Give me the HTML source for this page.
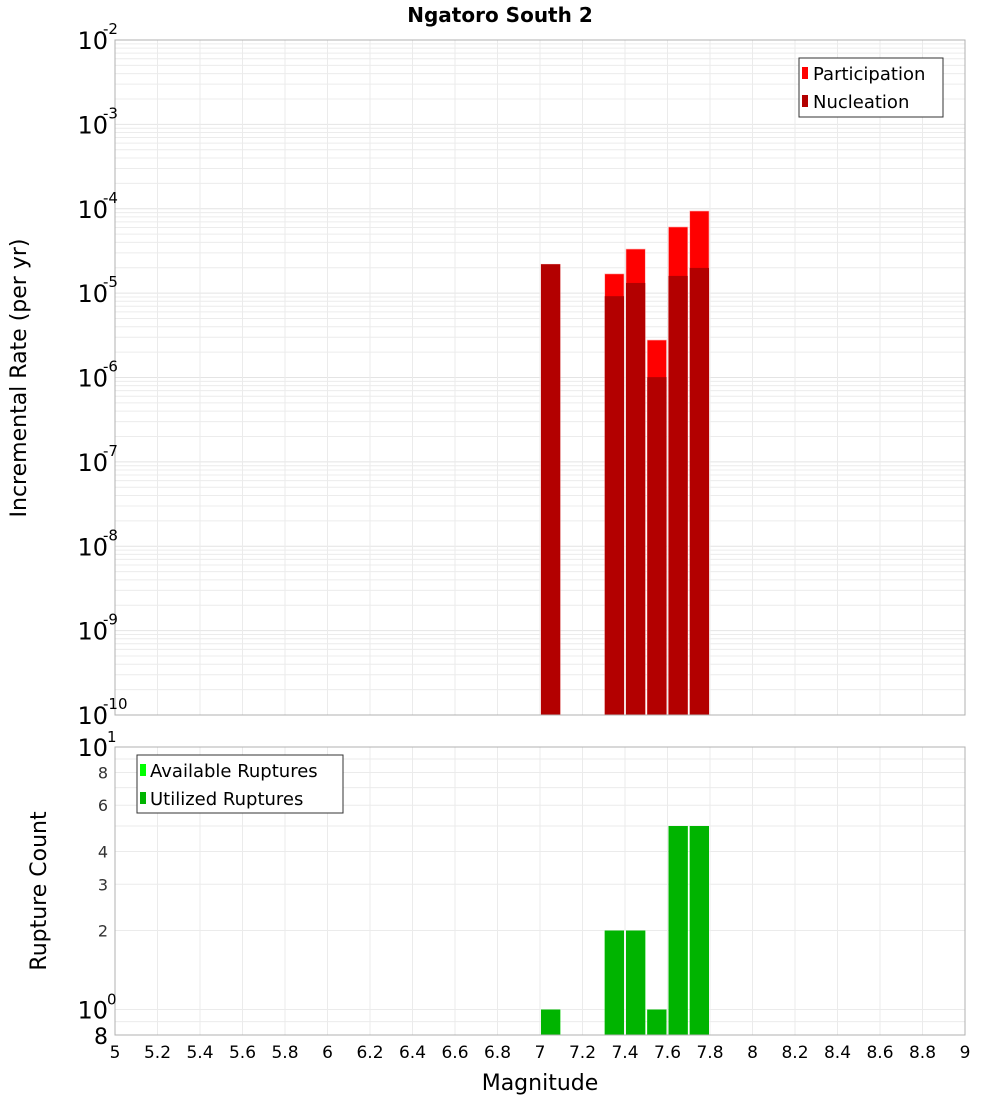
<!DOCTYPE html>
<html><head><meta charset="utf-8"><style>
body{margin:0;background:#fff;}
svg text{font-family:"DejaVu Sans","Liberation Sans",sans-serif;}
</style></head><body>
<svg id="c" width="1000" height="1100" xmlns="http://www.w3.org/2000/svg"></svg>
<script>
const binStarts=[7.0,7.3,7.4,7.5,7.6,7.7];
const participation=[2.2e-5,1.69e-5,3.33e-5,2.78e-6,6.08e-5,9.4e-5];
const nucleation=[2.2e-5,9.2e-6,1.32e-5,1.01e-6,1.6e-5,1.99e-5];
const available=[1,2,2,1,5,5];
const utilized=[1,2,2,1,5,5];
const xTicks=[5,5.2,5.4,5.6,5.8,6,6.2,6.4,6.6,6.8,7,7.2,7.4,7.6,7.8,8,8.2,8.4,8.6,8.8,9];
const topExps=[-2,-3,-4,-5,-6,-7,-8,-9,-10];
const botTicks=[8,6,4,3,2];

const svg=document.getElementById('c');
const NS='http://www.w3.org/2000/svg';
function mk(tag,attrs,parent){const e=document.createElementNS(NS,tag);for(const k in attrs)e.setAttribute(k,attrs[k]);(parent||svg).appendChild(e);return e;}
const L=115,R=965,T1=40,B1=715,T2=747,B2=1035;
const x=m=>L+(m-5)/4*(R-L);
const y1=v=>T1+(-2-Math.log10(v))*(B1-T1)/8;
const y2=v=>T2+(1-Math.log10(v))*(B2-T2)/(1-Math.log10(0.8));

// title
let t=mk('text',{x:500,y:22,'text-anchor':'middle','font-size':20,'font-weight':'bold'});t.textContent='Ngatoro South 2';


// grids top
const g1=mk('g',{});
for(let e=-10;e<-2;e++)for(let k=1;k<10;k++){const yy=y1(k*Math.pow(10,e));mk('line',{x1:L,x2:R,y1:yy,y2:yy,stroke:k==1?'#e4e4e4':'#ececec','stroke-width':1},g1);}
xTicks.forEach(m=>{mk('line',{x1:x(m),x2:x(m),y1:T1,y2:B1,stroke:'#ebebeb'},g1);mk('line',{x1:x(m),x2:x(m),y1:T2,y2:B2,stroke:'#ebebeb'},g1);});
const g2=mk('g',{});
[0.8,0.9,1,2,3,4,5,6,7,8,9,10].forEach(v=>{mk('line',{x1:L,x2:R,y1:y2(v),y2:y2(v),stroke:'#ebebeb'},g2);});

// bars top
const bw=x(5.1)-x(5);
binStarts.forEach((m,i)=>{
 let r=mk('rect',{x:x(m)+1,y:y1(participation[i]),width:bw-2,height:B1-y1(participation[i]),fill:'#ff0000',stroke:'#ffb0b0','stroke-width':0.6});
 
});
binStarts.forEach((m,i)=>{
 let r=mk('rect',{x:x(m)+1,y:y1(nucleation[i]),width:bw-2,height:B1-y1(nucleation[i]),fill:'#b30000'});
 
});
binStarts.forEach((m,i)=>{
 let r=mk('rect',{x:x(m)+1,y:y2(available[i]),width:bw-2,height:B2-y2(available[i]),fill:'#00ff00'});
 
 let u=mk('rect',{x:x(m)+1,y:y2(utilized[i]),width:bw-2,height:B2-y2(utilized[i]),fill:'#00b400'});
 
});

// frames
mk('rect',{x:L,y:T1,width:R-L,height:B1-T1,fill:'none',stroke:'#b0b0b0'});
mk('rect',{x:L,y:T2,width:R-L,height:B2-T2,fill:'none',stroke:'#b0b0b0'});

// top y ticks
topExps.forEach(e=>{const yy=y1(Math.pow(10,e));
 let tx=mk('text',{x:108,y:yy+9,'text-anchor':'end','font-size':24});
 tx.textContent='10';
 let s=mk('text',{x:103,y:yy-6,'font-size':15});s.textContent=String(e);
});
// bottom y ticks
[[10,'10','1'],[1,'10','0']].forEach(([v,b,s])=>{const yy=y2(v);
 let tx=mk('text',{x:108,y:yy+9,'text-anchor':'end','font-size':24});tx.textContent=b;
 
 let st=mk('text',{x:107,y:yy-5,'font-size':15});st.textContent=s;});
botTicks.forEach(v=>{let tx=mk('text',{x:108,y:y2(v)+6,'text-anchor':'end','font-size':16,fill:'#333'});tx.textContent=String(v);
 });
let e8=mk('text',{x:108,y:B2+9,'text-anchor':'end','font-size':22});e8.textContent='8';

// x ticks
xTicks.forEach(m=>{let tx=mk('text',{x:x(m),y:1058,'text-anchor':'middle','font-size':17});tx.textContent=String(m);
 });
let xl=mk('text',{x:540,y:1090,'text-anchor':'middle','font-size':22});xl.textContent='Magnitude';

let yl=mk('text',{x:0,y:0,'text-anchor':'middle','font-size':22,transform:'translate(26,378) rotate(-90)'});yl.textContent='Incremental Rate (per yr)';

let yl2=mk('text',{x:0,y:0,'text-anchor':'middle','font-size':22,transform:'translate(46,891) rotate(-90)'});yl2.textContent='Rupture Count';


// legends
const lg1=mk('g',{});
mk('rect',{x:799,y:58,width:144,height:59,fill:'#fff',stroke:'#333'},lg1);
mk('rect',{x:802,y:67,width:6,height:12,fill:'#ff0000'},lg1);
mk('rect',{x:802,y:95,width:6,height:12,fill:'#b30000'},lg1);
let a=mk('text',{x:813,y:80,'font-size':18},lg1);a.textContent='Participation';
let b=mk('text',{x:813,y:108,'font-size':18},lg1);b.textContent='Nucleation';
const lg2=mk('g',{});
mk('rect',{x:137,y:755,width:206,height:58,fill:'#fff',stroke:'#333'},lg2);
mk('rect',{x:140,y:764,width:6,height:12,fill:'#00ff00'},lg2);
mk('rect',{x:140,y:792,width:6,height:12,fill:'#00b400'},lg2);
let c=mk('text',{x:150,y:777,'font-size':18},lg2);c.textContent='Available Ruptures';
let d=mk('text',{x:150,y:805,'font-size':18},lg2);d.textContent='Utilized Ruptures';
</script>
</body></html>
